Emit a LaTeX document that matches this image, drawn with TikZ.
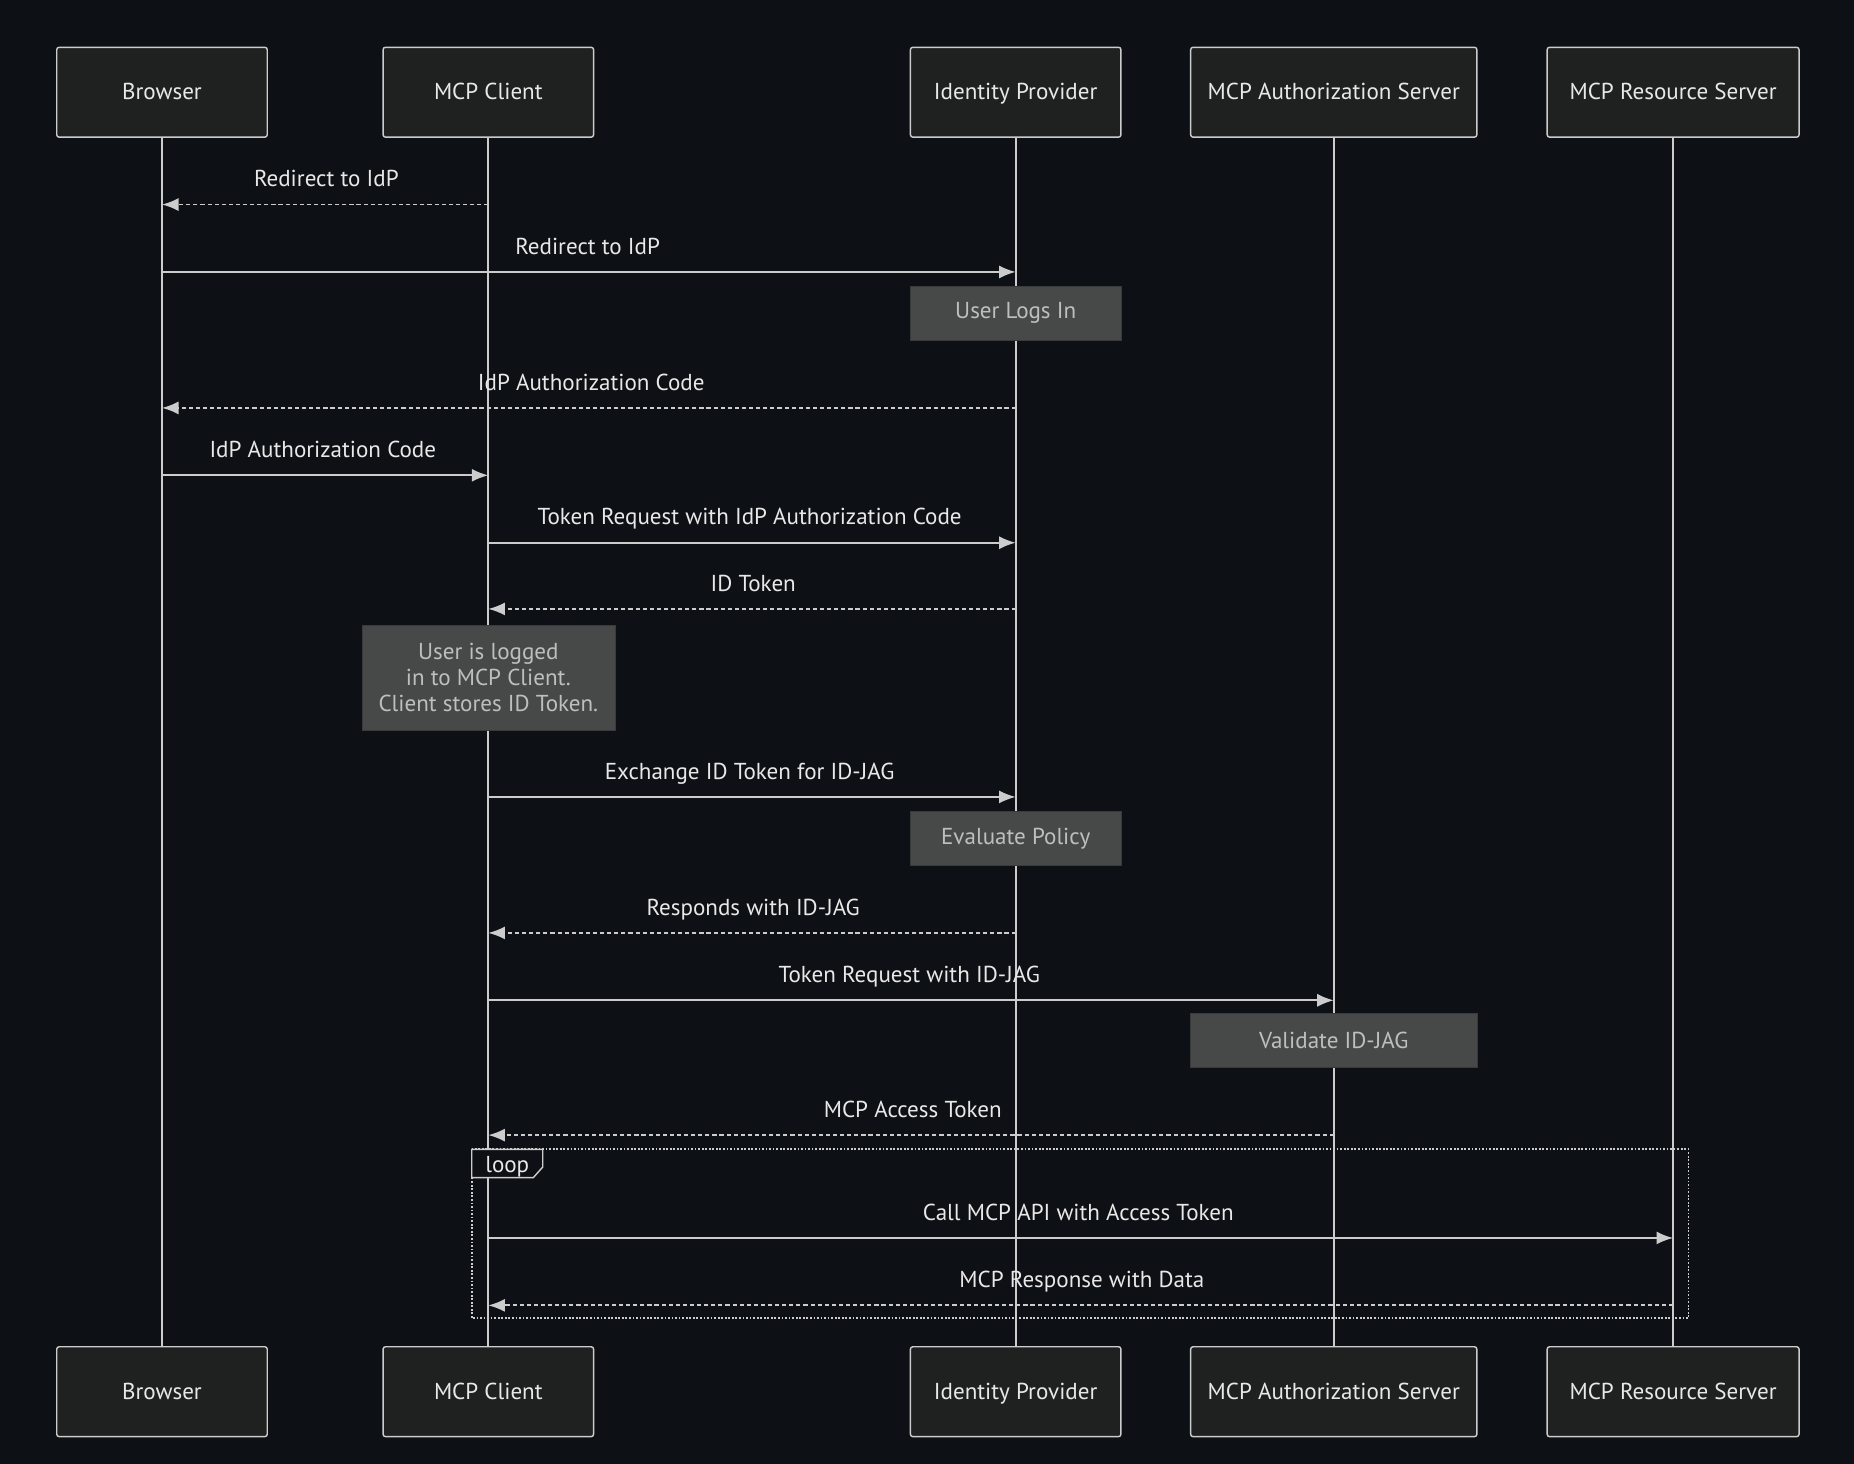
\documentclass[tikz,border=0pt]{standalone}
\usepackage{fontspec}
\setmainfont{PT Sans}
\usetikzlibrary{arrows.meta}
\definecolor{bg}{RGB}{13,16,20}
\definecolor{boxf}{RGB}{31,32,32}
\definecolor{ln}{RGB}{204,204,204}
\definecolor{notef}{RGB}{71,73,73}
\definecolor{notet}{RGB}{190,190,190}
\definecolor{txt}{RGB}{232,232,232}
\begin{document}
\begin{tikzpicture}[x=1pt,y=-1pt,
 actor/.style={draw=ln,fill=boxf,rounded corners=2pt,line width=1.2pt,minimum height=76pt,text=txt,font=\fontsize{19.5}{23}\selectfont,inner sep=0pt,text height=15pt,text depth=2pt},
 note/.style={draw=notef!80!black,fill=notef,text=notet,font=\fontsize{19.5}{22}\selectfont,align=center,inner sep=0pt},
 life/.style={ln,line width=1.8pt},
 msg/.style={ln,line width=1.5pt,-{Latex[length=14pt,width=11pt]}},
 rep/.style={msg,dash pattern=on 3.5pt off 2.5pt},
 lbl/.style={text=txt,font=\fontsize{19.5}{23}\selectfont,inner sep=0pt,text height=13pt,text depth=4pt,yshift=-2.5pt}]
\fill[bg] (0,0) rectangle (1568,1238);
\useasboundingbox (0,0) rectangle (1568,1238);
\foreach \n/\x/\w/\t in {b/137/178/Browser,c/413/178/MCP Client,i/859/178/Identity Provider,a/1128/242/MCP Authorization Server,r/1415/213/MCP Resource Server}{
 \draw[life] (\x,116) -- (\x,1139);
 \node[actor,minimum width=\w pt] (\n) at (\x,78) {\t};
 \node[actor,minimum width=\w pt] (\n2) at (\x,1177) {\t};
}
% loop frame
\draw[ln,line width=1.5pt,dash pattern=on 1.5pt off 1.5pt] (399,972) rectangle (1428,1115);
\draw[ln,line width=1.2pt,fill=bg] (399,972) -- (459,972) -- (459,987) -- (451,996) -- (399,996) -- cycle;
\node[lbl] (lp) at (429,985) {loop};
% messages
\draw[rep] (c |- 0,173) -- (b |- 0,173); \node[lbl] at (276,151) {Redirect to IdP};
\draw[msg] (b |- 0,230) -- (i |- 0,230); \node[lbl] at (497,208) {Redirect to IdP};
\node[note,minimum width=178pt,minimum height=46pt] (n1) at (859,265) {User Logs In};
\draw[rep] (i |- 0,345) -- (b |- 0,345); \node[lbl] at (500,323) {IdP Authorization Code};
\draw[msg] (b |- 0,402) -- (c |- 0,402); \node[lbl] at (273,380) {IdP Authorization Code};
\draw[msg] (c |- 0,459) -- (i |- 0,459); \node[lbl] at (634,437) {Token Request with IdP Authorization Code};
\draw[rep] (i |- 0,515) -- (c |- 0,515); \node[lbl] at (637,493) {ID Token};
\node[note,minimum width=214pt,minimum height=89pt] (n2) at (413,573) {User is logged\\in to MCP Client.\\Client stores ID Token.};
\draw[msg] (c |- 0,674) -- (i |- 0,674); \node[lbl] at (634,652) {Exchange ID Token for ID-JAG};
\node[note,minimum width=178pt,minimum height=46pt] (n3) at (859,709) {Evaluate Policy};
\draw[rep] (i |- 0,789) -- (c |- 0,789); \node[lbl] at (637,767) {Responds with ID-JAG};
\draw[msg] (c |- 0,846) -- (a |- 0,846); \node[lbl] at (769,824) {Token Request with ID-JAG};
\node[note,minimum width=242pt,minimum height=46pt] (n4) at (1128,880) {Validate ID-JAG};
\draw[rep] (a |- 0,960) -- (c |- 0,960); \node[lbl] at (772,938) {MCP Access Token};
\draw[msg] (c |- 0,1047) -- (r |- 0,1047); \node[lbl] at (912,1025) {Call MCP API with Access Token};
\draw[rep] (r |- 0,1104) -- (c |- 0,1104); \node[lbl] at (915,1082) {MCP Response with Data};
\end{tikzpicture}
\end{document}
